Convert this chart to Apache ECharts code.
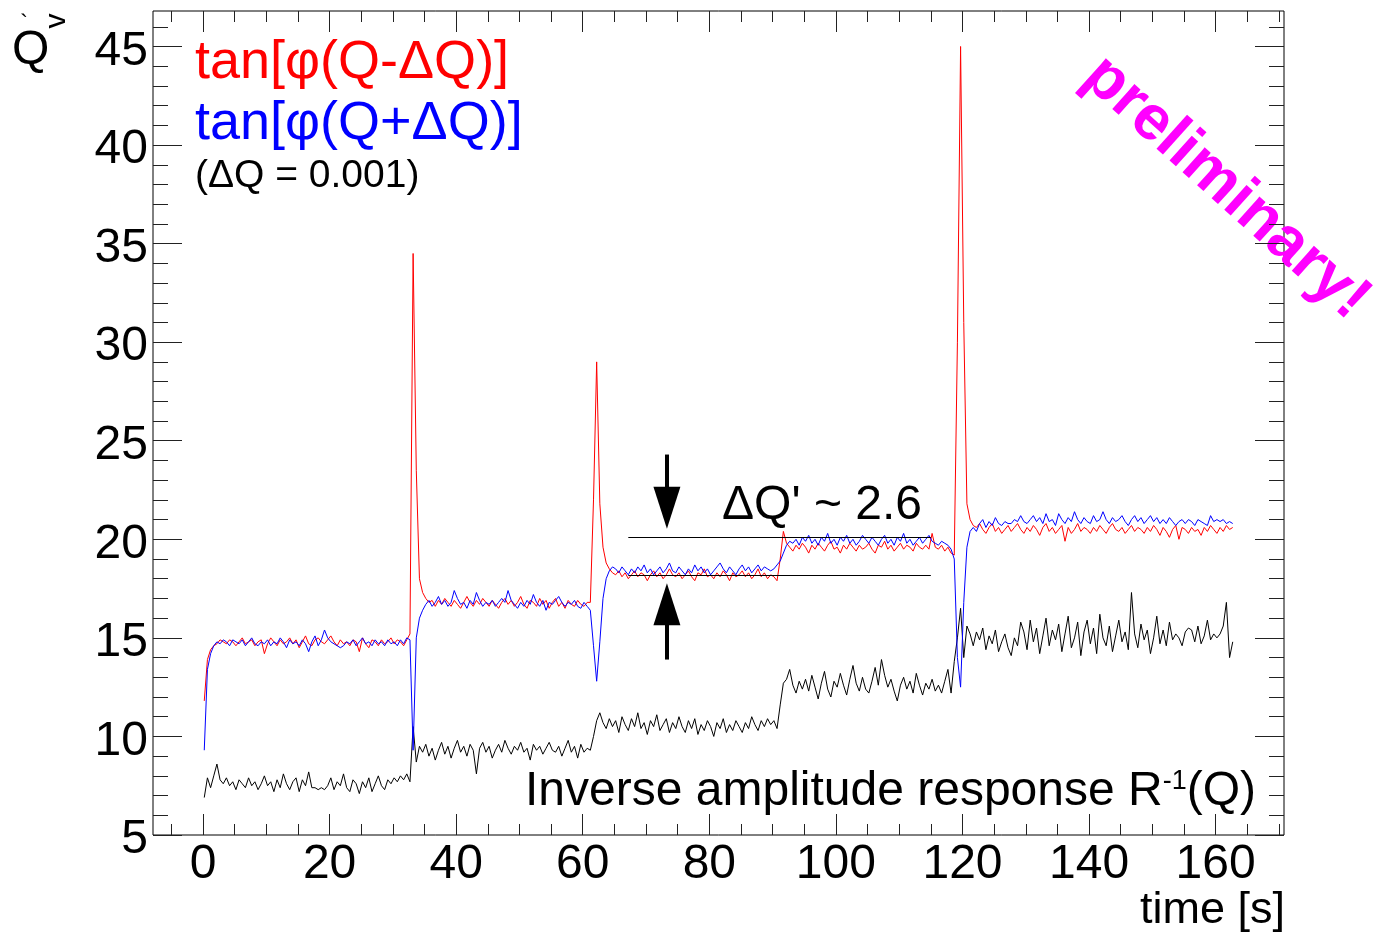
<!DOCTYPE html>
<html><head><meta charset="utf-8">
<script src="https://cdn.jsdelivr.net/npm/echarts@6/dist/echarts.min.js"></script>
<style>html,body{margin:0;padding:0;background:#fff}#c{width:1383px;height:937px}</style>
</head><body><div id="c"></div>
<script>
// sampling of the recorded signals (s)
const T0 = 0.2, DT = 0.5;

// tan[phi(Q-dQ)]
const redValues = [
 11.8,13.9,14.4,14.6,14.7,14.9,14.8,14.7,14.9,14.8,
 14.6,14.8,15.0,14.7,14.8,14.9,14.6,14.8,14.9,14.2,
 14.7,15.0,14.8,14.6,14.9,14.7,14.8,15.0,14.7,14.9,
 14.5,14.8,15.1,14.7,14.6,14.9,15.0,14.8,14.7,14.9,
 15.1,14.8,14.6,14.9,14.7,14.8,14.6,14.9,14.8,14.3,
 15.0,14.7,14.5,14.9,14.8,14.6,14.9,14.7,14.8,15.0,
 14.7,14.9,14.8,14.6,14.9,15.2,34.5,23.5,18.0,17.3,
 17.0,16.8,16.9,16.6,16.9,16.7,17.0,16.8,16.6,16.9,
 16.7,16.5,16.8,17.1,16.8,16.6,16.9,16.7,17.0,16.8,
 16.6,16.9,16.7,16.5,16.8,17.0,16.7,16.9,16.6,16.8,
 17.1,16.7,16.5,16.9,16.8,16.6,17.0,16.7,16.9,16.5,
 16.8,17.0,16.6,16.8,16.5,16.9,16.7,16.6,16.9,16.7,
 16.6,16.8,16.8,22.0,29.0,21.8,19.6,18.8,18.5,18.3,
 18.2,18.4,18.1,18.3,18.0,18.2,18.4,18.1,18.3,18.2,
 17.9,18.2,18.4,18.1,18.3,18.0,18.2,18.5,18.2,18.1,
 18.3,18.0,18.2,18.4,18.1,17.9,18.3,18.2,18.5,18.1,
 18.2,18.0,18.3,18.1,18.4,18.2,17.9,18.3,18.1,18.2,
 18.4,18.1,18.3,18.0,18.2,18.5,18.1,18.3,18.0,18.2,
 18.1,17.9,19.0,20.4,19.8,19.6,19.4,19.7,19.5,19.8,
 19.6,19.3,19.7,19.5,19.8,19.6,19.4,19.7,19.9,19.5,
 19.6,19.3,19.7,19.5,19.8,19.6,19.4,19.7,19.5,19.6,
 19.8,19.5,19.3,19.7,19.6,19.9,19.5,19.7,19.4,19.6,
 19.8,19.5,19.7,19.6,19.4,19.8,19.6,19.5,19.7,19.5,
 20.3,19.6,19.5,19.7,19.4,19.6,19.3,19.2,30.0,45.0,
 31.0,21.8,21.0,20.7,20.6,20.8,20.5,20.3,20.6,20.8,
 20.4,20.6,20.3,20.5,20.7,20.4,20.6,20.8,20.5,20.3,
 20.6,20.4,20.7,20.5,20.2,20.6,20.8,20.4,20.6,20.3,
 20.5,20.7,19.9,20.6,20.3,20.5,20.8,20.4,20.6,20.5,
 20.3,20.6,20.4,20.7,20.5,20.3,20.6,20.8,20.5,20.4,
 20.6,20.3,20.5,20.7,20.4,20.6,20.5,20.3,20.6,20.4,
 20.7,20.5,20.2,20.6,20.4,20.1,20.5,20.7,20.0,20.6,
 20.5,20.3,20.6,20.4,20.5,20.2,20.6,20.4,20.7,20.5,
 20.3,20.6,20.4,20.7,20.5,20.6
];

// tan[phi(Q+dQ)]
const blueValues = [
 9.3,13.4,14.2,14.6,14.8,14.7,14.9,14.8,14.6,14.9,
 14.8,14.7,14.9,14.6,14.8,15.0,14.7,14.6,14.8,14.7,
 14.9,14.6,14.8,14.7,15.0,14.8,14.5,14.9,14.7,14.8,
 14.6,14.9,14.7,14.3,14.8,15.1,14.6,14.9,15.4,15.0,
 14.8,14.7,14.6,14.5,14.6,14.8,14.7,14.9,14.6,14.8,
 15.0,14.7,14.8,14.6,14.9,14.7,14.8,14.6,14.9,14.7,
 14.8,14.6,14.9,14.7,15.0,14.9,9.3,15.0,16.0,16.4,
 16.7,16.9,16.6,16.8,17.1,16.7,16.9,16.6,16.8,17.4,
 17.0,16.7,16.8,16.5,16.9,16.7,17.3,16.9,16.6,16.8,
 16.7,16.9,16.6,16.8,17.0,16.8,17.4,16.9,16.7,16.5,
 16.8,16.6,16.9,16.7,17.2,16.8,16.6,16.9,16.4,16.8,
 16.7,16.9,17.1,16.8,16.6,16.8,16.7,16.9,16.6,16.5,
 16.8,16.6,16.4,14.6,12.8,14.8,17.0,18.0,18.4,18.6,
 18.5,18.3,18.6,18.4,18.2,18.5,18.3,18.6,18.4,18.7,
 18.3,18.5,18.2,18.4,18.6,18.3,18.5,18.8,18.4,18.3,
 18.6,18.4,18.2,18.5,18.3,18.7,18.4,18.6,18.3,18.5,
 18.2,18.4,18.6,18.8,18.5,18.3,18.6,18.4,18.2,18.5,
 18.7,18.4,18.6,18.3,18.5,18.7,18.4,18.6,18.5,18.4,
 18.5,18.7,18.9,19.3,19.7,19.9,19.8,20.0,19.7,20.1,
 19.9,20.2,19.8,20.0,19.7,20.1,19.9,20.3,19.8,20.0,
 19.7,20.1,19.9,20.2,19.8,20.0,19.7,19.9,20.2,20.0,
 19.8,20.1,19.9,19.7,20.0,20.2,19.8,20.0,19.7,20.1,
 19.9,20.3,19.8,20.0,19.7,19.9,20.1,19.8,20.0,20.2,
 19.9,19.8,19.7,19.9,19.8,19.7,19.5,19.0,14.0,12.5,
 16.8,19.6,20.4,20.6,20.4,20.8,21.0,20.6,20.9,20.7,
 21.1,20.8,20.7,20.9,20.8,20.8,21.0,20.9,21.2,20.9,
 20.8,21.0,21.2,20.9,21.1,20.8,21.3,20.9,21.0,20.7,
 21.3,21.0,20.8,21.1,20.9,21.4,21.0,20.8,21.1,20.9,
 20.8,21.2,20.9,21.0,21.4,21.0,20.8,21.1,20.9,21.0,
 21.2,20.9,20.7,21.0,21.2,20.9,21.1,20.8,21.0,21.2,
 20.9,21.1,20.8,21.0,20.8,21.1,20.9,20.7,20.9,21.0,
 20.8,21.0,20.9,20.7,21.0,20.9,20.8,20.7,21.2,20.9,
 21.0,20.9,21.0,20.8,20.9,20.8
];

// inverse amplitude response R^-1(Q)
const blackValues = [
 6.9,7.9,7.4,8.0,8.6,7.8,7.6,7.9,7.5,7.7,
 7.3,7.8,7.6,7.4,7.9,7.5,7.7,7.3,7.6,8.0,
 7.5,7.7,7.2,7.8,7.4,8.1,7.6,7.3,7.7,7.9,
 7.2,7.8,7.5,8.2,7.4,7.4,7.3,7.4,7.3,7.5,
 7.9,7.3,7.7,7.5,8.1,7.4,7.2,7.8,7.6,7.1,
 7.7,7.4,7.9,7.2,7.6,8.0,7.5,7.3,7.8,7.6,
 7.9,7.7,8.0,7.8,8.1,7.7,10.5,8.7,9.5,9.2,
 9.6,9.0,9.4,8.8,9.3,9.7,9.1,9.5,8.9,9.4,
 9.8,9.2,9.5,9.0,9.6,9.3,8.1,9.4,9.7,9.2,
 9.5,8.9,9.3,9.6,9.2,9.8,9.4,9.1,9.5,9.3,
 9.7,9.2,9.4,8.8,9.6,9.3,9.5,9.1,9.4,9.7,
 9.3,9.2,9.5,9.0,9.4,9.8,9.2,9.5,8.9,9.6,
 9.2,9.4,9.3,10.0,10.8,11.2,10.7,10.4,10.9,10.5,
 10.8,10.2,11.0,10.6,10.3,10.9,10.5,11.2,10.4,10.7,
 10.1,10.8,10.5,11.1,10.3,10.6,10.9,10.2,10.7,10.4,
 11.0,10.5,10.2,10.8,10.4,10.9,10.1,10.6,10.3,10.8,
 10.5,10.0,10.7,10.4,10.9,10.2,10.6,10.3,10.8,10.5,
 10.2,10.7,10.4,11.0,10.6,10.3,10.8,10.5,10.9,10.6,
 10.8,10.4,11.6,12.7,12.9,13.4,12.6,12.2,12.8,12.4,
 12.9,12.3,13.1,12.5,11.9,12.7,13.3,12.4,12.0,12.8,
 12.5,13.2,12.6,12.1,12.9,13.6,12.7,12.3,13.0,12.4,
 12.2,12.8,13.5,12.6,13.9,13.1,12.5,12.9,12.3,11.8,
 12.6,13.0,12.4,12.8,12.2,13.2,12.6,12.1,12.7,12.4,
 12.9,12.3,12.6,12.2,12.8,13.4,12.2,13.8,15.0,16.5,
 14.0,15.6,15.2,14.6,15.3,14.9,15.5,14.4,15.1,14.7,
 15.4,14.3,14.8,15.2,14.5,14.1,15.0,14.6,15.8,15.3,
 14.4,15.9,14.8,15.5,14.2,15.1,16.0,14.6,15.4,14.9,
 15.7,14.3,15.2,16.1,14.5,15.0,15.8,14.1,15.3,15.9,
 14.7,15.5,14.2,16.2,15.0,14.6,15.6,14.3,15.1,15.9,
 14.8,15.3,14.4,17.3,15.2,14.5,15.7,14.9,15.4,14.2,
 15.0,16.1,14.7,15.4,14.6,15.8,14.9,15.2,15.0,14.6,
 15.3,15.5,15.4,14.8,15.6,14.7,15.1,15.9,14.9,15.2,
 15.0,15.2,15.6,16.8,14.0,14.8
];

// axis ticks
const xMajorTicks = [0,20,40,60,80,100,120,140,160];
const xMinorTicks = [-5,5,10,15,25,30,35,45,50,55,65,70,75,85,90,95,105,110,115,125,130,135,145,150,155,165,170];
const yMajorTicks = [5,10,15,20,25,30,35,40,45];
const yMinorTicks = [6,7,8,9,11,12,13,14,16,17,18,19,21,22,23,24,26,27,28,29,31,32,33,34,36,37,38,39,41,42,43,44,46];

// annotations (data units)
const guideLines = [ {x0:67.2, x1:115.0, y:20.1}, {x0:67.2, x1:115.0, y:18.18} ];
const arrows = [ {x:73.3, yFrom:24.3, yTo:21.6}, {x:73.3, yFrom:13.9, yTo:16.7} ];

const FONT = 'Liberation Sans, Arial, Helvetica, sans-serif';
const X_MIN = -7.9, X_MAX = 170.8, Y_MIN = 5, Y_MAX = 46.8;
const TICK_COLOR = '#222';

const toPairs = v => v.map((y, i) => [Math.round((T0 + i * DT) * 100) / 100, y]);

function xAx(grid, pos, ticks, len, labels) {
  return {
    type: 'value', gridIndex: grid, position: pos, offset: 0, min: X_MIN, max: X_MAX,
    axisLine: {show: false, onZero: false}, splitLine: {show: false}, minorTick: {show: false},
    axisTick: {show: true, inside: true, length: len, customValues: ticks, lineStyle: {color: TICK_COLOR, width: 1}},
    axisLabel: labels ? {show: true, customValues: ticks, fontSize: 48, fontFamily: FONT, color: '#000', margin: 6} : {show: false}
  };
}
function yAx(grid, pos, ticks, len, labels) {
  return {
    type: 'value', gridIndex: grid, position: pos, offset: 0, min: Y_MIN, max: Y_MAX,
    axisLine: {show: false, onZero: false}, splitLine: {show: false}, minorTick: {show: false},
    axisTick: {show: true, inside: true, length: len, customValues: ticks, lineStyle: {color: TICK_COLOR, width: 1}},
    axisLabel: labels ? {show: true, customValues: ticks, fontSize: 48, fontFamily: FONT, color: '#000', margin: 5,
       formatter: '{a|{value}}', rich: {a: {fontSize: 48, fontFamily: FONT, color: '#000', padding: [10, 0, 0, 0]}}} : {show: false}
  };
}

const markLineData = [];
guideLines.forEach(g => markLineData.push([
  {coord: [g.x0, g.y], symbol: 'none', lineStyle: {width: 1, color: '#000'}},
  {coord: [g.x1, g.y], symbol: 'none'}
]));
arrows.forEach(a => markLineData.push([
  {coord: [a.x, a.yFrom], symbol: 'none', lineStyle: {width: 4, color: '#000'}},
  {coord: [a.x, a.yTo], symbol: 'triangle', symbolSize: [27, 42]}
]));

const gridRect = {left: 153, top: 11, width: 1131, height: 824, containLabel: false, outerBoundsMode: 'none'};

const chart = echarts.init(document.getElementById('c'), null, {renderer: 'canvas'});
chart.setOption({
  animation: false,
  backgroundColor: '#fff',
  grid: [
    Object.assign({show: true, borderColor: '#000', borderWidth: 1, backgroundColor: 'transparent'}, gridRect),
    Object.assign({show: false}, gridRect)
  ],
  xAxis: [
    xAx(0, 'bottom', xMajorTicks, 21, true),
    xAx(0, 'top', xMajorTicks, 21, false),
    xAx(1, 'bottom', xMinorTicks, 11, false),
    xAx(1, 'top', xMinorTicks, 11, false)
  ],
  yAxis: [
    yAx(0, 'left', yMajorTicks, 29, true),
    yAx(0, 'right', yMajorTicks, 29, false),
    yAx(1, 'left', yMinorTicks, 15, false),
    yAx(1, 'right', yMinorTicks, 15, false)
  ],
  series: [
    {type: 'line', name: 'R^-1(Q)', data: toPairs(blackValues), xAxisIndex: 0, yAxisIndex: 0,
     showSymbol: false, symbol: 'none', lineStyle: {color: '#000', width: 1}, z: 2,
     markLine: {silent: true, symbol: ['none', 'none'], label: {show: false}, emphasis: {disabled: true},
                animation: false, data: markLineData, lineStyle: {color: '#000', type: 'solid'}}},
    {type: 'line', name: 'tan[phi(Q-dQ)]', data: toPairs(redValues), xAxisIndex: 0, yAxisIndex: 0,
     showSymbol: false, symbol: 'none', lineStyle: {color: '#ff0000', width: 1}, z: 3},
    {type: 'line', name: 'tan[phi(Q+dQ)]', data: toPairs(blueValues), xAxisIndex: 0, yAxisIndex: 0,
     showSymbol: false, symbol: 'none', lineStyle: {color: '#0000ff', width: 1}, z: 4}
  ],
  graphic: [
    {type: 'text', x: 195, y: 63, style: {text: 'tan[φ(Q-ΔQ)]', fill: '#ff0000', font: '54px ' + FONT, textAlign: 'left', textVerticalAlign: 'middle'}},
    {type: 'text', x: 195, y: 124, style: {text: 'tan[φ(Q+ΔQ)]', fill: '#0000ff', font: '54px ' + FONT, textAlign: 'left', textVerticalAlign: 'middle'}},
    {type: 'text', x: 195, y: 176, style: {text: '(ΔQ = 0.001)', fill: '#000', font: '39px ' + FONT, textAlign: 'left', textVerticalAlign: 'middle'}},
    {type: 'text', x: 722, y: 506, style: {text: "ΔQ' ~ 2.6", fill: '#000', font: '48px ' + FONT, textAlign: 'left', textVerticalAlign: 'middle'}},
    {type: 'text', x: 1256, y: 792, style: {
      text: '{a|Inverse amplitude response R}{s|-1}{a|(Q)}', fill: '#000', textAlign: 'right', textVerticalAlign: 'middle',
      rich: {a: {fontSize: 48, fontFamily: FONT, fill: '#000', color: '#000'},
             s: {fontSize: 27, fontFamily: FONT, fill: '#000', color: '#000', verticalAlign: 'top'}}}},
    {type: 'text', x: 1285, y: 911, style: {text: 'time [s]', fill: '#000', font: '45px ' + FONT, textAlign: 'right', textVerticalAlign: 'middle'}},
    {type: 'text', x: 1226, y: 188, rotation: -42 * Math.PI / 180,
     style: {text: 'preliminary!', fill: '#ff00ff', font: 'bold 63px ' + FONT, textAlign: 'center', textVerticalAlign: 'middle'}},
    {type: 'text', x: 12, y: 51, style: {text: 'Q', fill: '#000', font: '48px ' + FONT, textAlign: 'left', textVerticalAlign: 'middle'}},
    {type: 'text', x: 24, y: 24, style: {text: '`', fill: '#000', font: '24px ' + FONT, textAlign: 'center', textVerticalAlign: 'middle'}},
    {type: 'text', x: 57, y: 21, rotation: Math.PI / 2, style: {text: 'v', fill: '#000', font: '30px ' + FONT, textAlign: 'center', textVerticalAlign: 'middle'}}
  ]
});
</script>
</body></html>
